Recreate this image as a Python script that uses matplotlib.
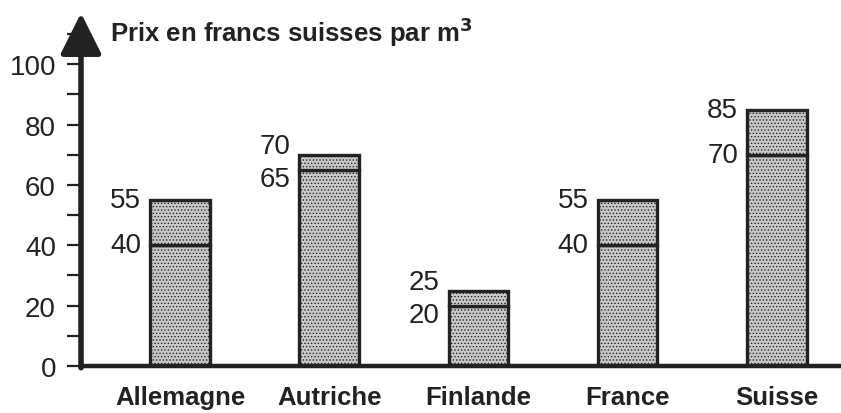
import matplotlib.pyplot as plt
from matplotlib.ticker import MultipleLocator

plt.rcParams['font.family'] = ['Liberation Sans', 'DejaVu Sans']
plt.rcParams['hatch.color'] = '#8a8a8a'
plt.rcParams['hatch.linewidth'] = 0.6

# données
pays = ["Allemagne", "Autriche", "Finlande", "France", "Suisse"]
prix_bas = [40, 65, 20, 40, 70]
prix_haut = [55, 70, 25, 55, 85]

ink = "#222222"
fill = "#c9c9c9"

fig = plt.figure(figsize=(8.41, 4.14), dpi=100)
ax = fig.add_axes([81 / 841, 47 / 414, 760 / 841, 353 / 414])

x = list(range(len(pays)))
w = 0.40
ax.bar(x, prix_bas, width=w, color=fill, edgecolor=ink, linewidth=2.4,
       hatch='.....', zorder=2)
ax.bar(x, [h - b for h, b in zip(prix_haut, prix_bas)], bottom=prix_bas,
       width=w, color=fill, edgecolor=ink, linewidth=2.4, hatch='.....', zorder=2)

# étiquettes des valeurs à gauche des barres
for i, (b, h) in enumerate(zip(prix_bas, prix_haut)):
    yb, yh = b, h
    if h - b < 11:
        mid = (h + b) / 2
        yh, yb = mid + 5.5, mid - 5.5
    for v, yy in ((h, yh), (b, yb)):
        ax.text(i - w / 2 - 0.06, yy, str(v), ha='right', va='center',
                fontsize=20, color=ink)

ax.set_xlim(-0.664, 4.43)
ax.set_ylim(0, 117)

ax.set_yticks([0, 20, 40, 60, 80, 100])
ax.yaxis.set_minor_locator(MultipleLocator(10))
ax.tick_params(axis='y', which='both', length=10, width=1.6, color=ink,
               labelsize=20, labelcolor=ink, pad=8)
ax.set_xticks(x)
ax.set_xticklabels(pays, fontsize=18.5, fontweight='bold', color=ink)
ax.tick_params(axis='x', length=0, pad=14)

for s in ['top', 'right', 'left']:
    ax.spines[s].set_visible(False)
ax.spines['bottom'].set_linewidth(3.2)
ax.spines['bottom'].set_color(ink)

# axe vertical avec flèche
ax.annotate('', xy=(0, 1.0), xytext=(0, -0.005), xycoords='axes fraction',
            arrowprops=dict(arrowstyle='-|>,head_length=0.9,head_width=0.45',
                            lw=4, color=ink, mutation_scale=28,
                            shrinkA=0, shrinkB=0), annotation_clip=False)

fig.text(110 / 841, 1 - 32 / 414, r"Prix en francs suisses par m$^{\mathbf{3}}$",
         fontsize=18.5, fontweight='bold', color=ink, va='center', ha='left')

fig.savefig("out.png", dpi=100)
